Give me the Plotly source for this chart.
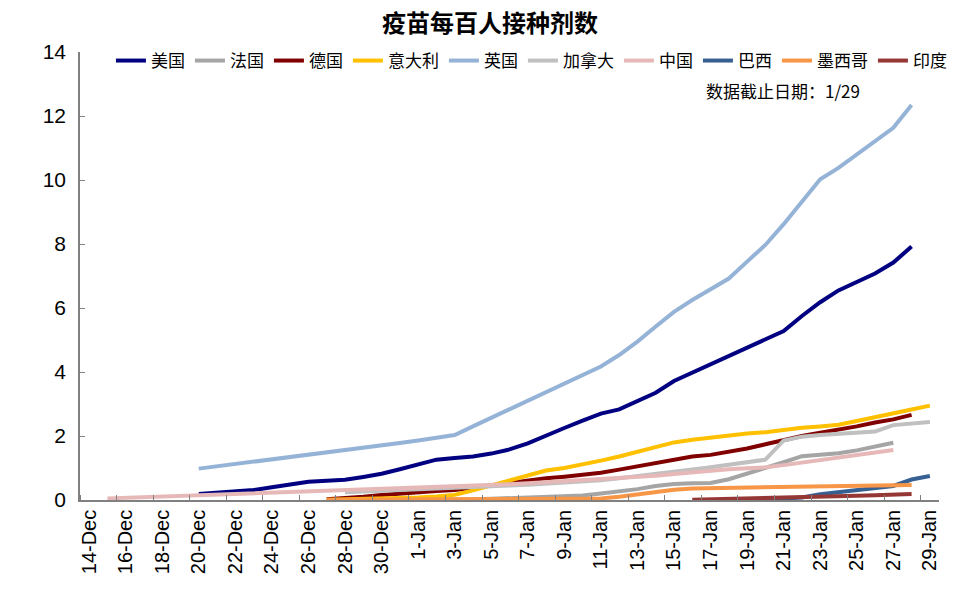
import plotly.graph_objects as go

# ---- categories (one per day) ----
days = ["14-Dec", "15-Dec", "16-Dec", "17-Dec", "18-Dec", "19-Dec", "20-Dec", "21-Dec",
        "22-Dec", "23-Dec", "24-Dec", "25-Dec", "26-Dec", "27-Dec", "28-Dec", "29-Dec",
        "30-Dec", "31-Dec", "1-Jan", "2-Jan", "3-Jan", "4-Jan", "5-Jan", "6-Jan",
        "7-Jan", "8-Jan", "9-Jan", "10-Jan", "11-Jan", "12-Jan", "13-Jan", "14-Jan",
        "15-Jan", "16-Jan", "17-Jan", "18-Jan", "19-Jan", "20-Jan", "21-Jan", "22-Jan",
        "23-Jan", "24-Jan", "25-Jan", "26-Jan", "27-Jan", "28-Jan", "29-Jan"]

tick_labels = ["14-Dec", "16-Dec", "18-Dec", "20-Dec", "22-Dec", "24-Dec", "26-Dec", "28-Dec",
               "30-Dec", "1-Jan", "3-Jan", "5-Jan", "7-Jan", "9-Jan", "11-Jan", "13-Jan",
               "15-Jan", "17-Jan", "19-Jan", "21-Jan", "23-Jan", "25-Jan", "27-Jan", "29-Jan"]

# ---- series (first date, then daily values) ----
us_start = "20-Dec"
us = [0.19, 0.22, 0.26, 0.31, 0.40, 0.49, 0.57, 0.60, 0.63, 0.72, 0.82, 0.96, 1.10, 1.26,
      1.31, 1.36, 1.45, 1.58, 1.77, 2.02, 2.25, 2.48, 2.70, 2.83, 3.10, 3.35, 3.72, 3.98,
      4.24, 4.50, 4.75, 5.00, 5.28, 5.75, 6.18, 6.55, 6.82, 7.08, 7.42, 7.92]

france_start = "27-Dec"
france = [0.0, 0.0, 0.0, 0.0, 0.0, 0.01, 0.01, 0.01, 0.02, 0.04, 0.06, 0.08, 0.10, 0.11,
          0.14, 0.20, 0.26, 0.34, 0.44, 0.50, 0.52, 0.53, 0.65, 0.82, 0.99, 1.18, 1.37,
          1.42, 1.46, 1.55, 1.67, 1.79]

germany_start = "27-Dec"
germany = [0.02, 0.05, 0.10, 0.16, 0.21, 0.25, 0.28, 0.31, 0.37, 0.45, 0.53, 0.62, 0.68,
           0.73, 0.78, 0.85, 0.95, 1.05, 1.17, 1.28, 1.36, 1.41, 1.50, 1.61, 1.74, 1.88,
           2.00, 2.10, 2.19, 2.30, 2.42, 2.52, 2.66]

italy_start = "27-Dec"
italy = [0.01, 0.02, 0.03, 0.04, 0.06, 0.08, 0.11, 0.16, 0.30, 0.46, 0.62, 0.78, 0.92,
         1.00, 1.10, 1.23, 1.36, 1.50, 1.64, 1.80, 1.88, 1.95, 2.03, 2.08, 2.12, 2.20,
         2.26, 2.30, 2.35, 2.47, 2.60, 2.72, 2.83, 2.95]

uk_start = "20-Dec"
uk = [0.98, 1.05, 1.12, 1.19, 1.26, 1.33, 1.40, 1.47, 1.55, 1.62, 1.70, 1.78, 1.86, 1.94,
      2.03, 2.30, 2.57, 2.84, 3.11, 3.38, 3.65, 3.91, 4.17, 4.53, 4.95, 5.42, 5.88, 6.25,
      6.60, 6.92, 7.45, 7.97, 8.62, 9.30, 10.02, 10.38, 10.80, 11.23, 11.63, 12.34]

canada_start = "28-Dec"
canada = [0.24, 0.26, 0.28, 0.30, 0.32, 0.34, 0.36, 0.39, 0.42, 0.45, 0.48, 0.51, 0.54,
          0.58, 0.62, 0.68, 0.74, 0.81, 0.88, 0.95, 1.02, 1.09, 1.17, 1.26, 1.86, 1.98,
          2.03, 2.06, 2.09, 2.14, 2.34, 2.38, 2.44]

china_start = "15-Dec"
china = [0.05, 0.07, 0.09, 0.10, 0.12, 0.14, 0.16, 0.17, 0.19, 0.21, 0.22, 0.24, 0.26,
         0.28, 0.30, 0.32, 0.34, 0.36, 0.38, 0.40, 0.43, 0.46, 0.49, 0.52, 0.55, 0.58,
         0.62, 0.65, 0.68, 0.71, 0.76, 0.81, 0.87, 0.92, 0.96, 0.99, 1.02, 1.09, 1.17,
         1.25, 1.33, 1.40, 1.48, 1.56]

brazil_start = "20-Jan"
brazil = [0.00, 0.03, 0.08, 0.18, 0.25, 0.30, 0.37, 0.44, 0.64, 0.75]

mexico_start = "27-Dec"
mexico = [0.0, 0.01, 0.01, 0.01, 0.01, 0.02, 0.02, 0.02, 0.02, 0.02, 0.03, 0.03, 0.03,
          0.03, 0.04, 0.05, 0.10, 0.18, 0.26, 0.32, 0.36, 0.37, 0.37, 0.38, 0.39, 0.40,
          0.42, 0.45, 0.46, 0.47, 0.47, 0.47, 0.47]

india_start = "16-Jan"
india = [0.01, 0.02, 0.03, 0.05, 0.06, 0.08, 0.09, 0.10, 0.12, 0.13, 0.15, 0.17, 0.19]

series = [
    ("美国", us_start, us, "#000080"),
    ("法国", france_start, france, "#A5A5A5"),
    ("德国", germany_start, germany, "#800000"),
    ("意大利", italy_start, italy, "#FFC000"),
    ("英国", uk_start, uk, "#95B3D7"),
    ("加拿大", canada_start, canada, "#C0C0C0"),
    ("中国", china_start, china, "#E6B9B8"),
    ("巴西", brazil_start, brazil, "#376092"),
    ("墨西哥", mexico_start, mexico, "#F79646"),
    ("印度", india_start, india, "#953735"),
]

CJK = "Noto Sans CJK SC"
LAT = "Liberation Sans, Arial, Noto Sans CJK SC"

fig = go.Figure()
for name, start, vals, color in series:
    s = days.index(start)
    xs = list(range(s, s + len(vals)))
    fig.add_trace(go.Scatter(x=xs, y=vals, name=name, mode="lines",
                             line=dict(color=color, width=4)))

tickpos = [days.index(t) for t in tick_labels]
boundaries = [p - 0.5 for p in tickpos]

# the page body adds an 8px offset, so the margins are shifted by 8px
fig.update_layout(
    width=966, height=593,
    margin=dict(l=72, r=35, t=44, b=101, autoexpand=False),
    paper_bgcolor="white", plot_bgcolor="white",
    title=dict(text="<b>疫苗每百人接种剂数</b>", x=482 / 966, xref="container",
               y=1 - 16 / 593, yref="container", yanchor="middle", xanchor="center",
               font=dict(family=CJK, size=24, color="black")),
    legend=dict(orientation="h", x=0.036, xanchor="left", y=(500 - 61) / 448,
                yanchor="middle",
                font=dict(family=CJK, size=17, color="black"),
                bgcolor="rgba(0,0,0,0)", itemwidth=30, traceorder="normal"),
    showlegend=True,
    xaxis=dict(range=[-0.5, len(days) - 0.5], tickmode="array", tickvals=tickpos,
               ticktext=tick_labels, tickangle=-90, ticks="", showgrid=False,
               zeroline=False, showline=True, linecolor="#808080", linewidth=1.5,
               automargin=False,
               tickfont=dict(family=LAT, size=20, color="black"),
               minor=dict(tickmode="array", tickvals=boundaries, ticks="inside",
                          ticklen=5, tickcolor="#808080", tickwidth=1, showgrid=False)),
    yaxis=dict(range=[0, 14], dtick=2, tick0=0, ticks="inside", ticklen=5,
               tickcolor="#808080", showgrid=False, zeroline=False, showline=True,
               linecolor="#808080", linewidth=1.5, automargin=False,
               tickfont=dict(family=LAT, size=21, color="black"), ticklabelstandoff=8),
)

fig.add_annotation(text="数据截止日期：1/29", xref="paper", yref="paper",
                   x=(862 - 80) / 859, y=(500 - 91) / 448, xanchor="right",
                   yanchor="middle", showarrow=False,
                   font=dict(family=CJK, size=17, color="black"))

fig.write_html("out.html")
